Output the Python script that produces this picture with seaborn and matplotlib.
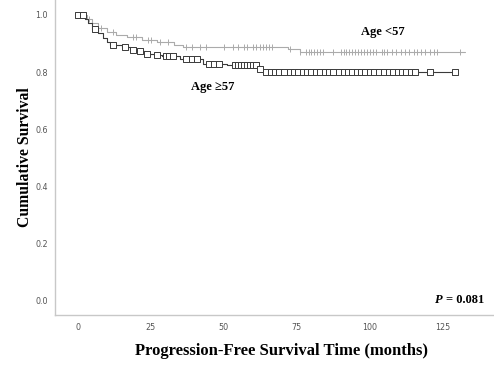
import numpy as np
import pandas as pd
import matplotlib
matplotlib.use("Agg")
import matplotlib.pyplot as plt
import seaborn as sns

# ---- data ----
young_times = [0, 3, 5, 7, 10, 13, 17, 22, 27, 33, 36, 72, 76, 132.5]
young_surv = [1.0, 0.985, 0.97, 0.955, 0.94, 0.93, 0.922, 0.912, 0.905, 0.895, 0.889, 0.881, 0.871, 0.871]
young_censor = [4, 8, 12, 19, 20, 24, 25, 28, 31, 37, 39, 42, 44, 50, 53, 55, 57, 58, 60, 61,
                62.5, 63.5, 64.5, 65.5, 66.5, 72.5, 76, 78, 79, 80, 81, 82, 83, 84, 87.5, 90, 91,
                92, 93, 94, 95, 96, 97, 98, 99, 100, 101, 102, 104, 105, 106, 107.5, 109, 110.5,
                112, 113.5, 115, 116, 117.5, 119, 120.5, 122, 123, 131]

old_times = [0, 2.5, 3.5, 5, 7, 8.5, 10, 11, 15, 18, 20.5, 23, 26, 29, 35, 43, 51, 62, 63.5, 129]
old_surv = [1.0, 0.985, 0.97, 0.951, 0.935, 0.92, 0.905, 0.894, 0.888, 0.878, 0.872, 0.864,
            0.86, 0.858, 0.846, 0.829, 0.824, 0.812, 0.802, 0.802]
old_censor = [0.1, 1.8, 5.9, 12.1, 16.2, 18.9, 21.3, 23.7, 27.2, 30.2, 31.3, 32.5, 37, 39.1, 40.8,
              45, 46.7, 48.5, 53.9, 55, 56, 57, 58, 59, 60, 61, 62.4, 64.5, 66, 67.5, 69, 70.5,
              72.5, 74, 75.5, 77, 78.5, 80, 81.5, 83, 84.5, 86, 87.5, 89.5, 91, 92.5, 94, 95.5,
              97, 98.5, 100, 101.5, 103, 105, 106.5, 108, 109.5, 111, 112.5, 114, 115.5, 120.5, 129]

x_ticks = [0, 25, 50, 75, 100, 125]
y_ticks = [0.0, 0.2, 0.4, 0.6, 0.8, 1.0]


def surv_at(times, surv, t):
    idx = np.searchsorted(np.asarray(times), np.asarray(t), side="right") - 1
    return np.asarray(surv)[idx]


sns.set_theme(style="white")
plt.rcParams['font.family'] = ['DejaVu Sans']

fig = plt.figure(figsize=(4.94, 3.65), dpi=100)
ax = fig.add_axes([55 / 494, 50 / 365, 439 / 494, 315 / 365])

young_df = pd.DataFrame({"t": young_times, "s": young_surv})
old_df = pd.DataFrame({"t": old_times, "s": old_surv})

light = "#ababab"
dark = "#3a3a3a"

sns.lineplot(data=young_df, x="t", y="s", ax=ax, drawstyle="steps-post", color=light,
             linewidth=0.8, estimator=None, sort=True)
sns.lineplot(data=old_df, x="t", y="s", ax=ax, drawstyle="steps-post", color=dark,
             linewidth=0.8, estimator=None, sort=True)

yc = pd.DataFrame({"t": young_censor, "s": surv_at(young_times, young_surv, young_censor)})
oc = pd.DataFrame({"t": old_censor, "s": surv_at(old_times, old_surv, old_censor)})

ax.scatter(yc["t"], yc["s"], marker="|", s=18, color=light, linewidths=0.7, zorder=3)
ax.scatter(oc["t"], oc["s"], marker="s", s=24, facecolors="white", edgecolors=dark,
           linewidths=0.7, zorder=4)

ax.set_xlim(-7.8, 142.5)
ax.set_ylim(-0.049, 1.052)
ax.set_xticks(x_ticks)
ax.set_yticks(y_ticks)
ax.set_xticklabels([str(v) for v in x_ticks])
ax.set_yticklabels([f"{v:.1f}" for v in y_ticks])
ax.tick_params(axis="both", length=0, labelsize=5.8, labelcolor="#555555")
ax.tick_params(axis="x", pad=6)
ax.tick_params(axis="y", pad=5)

for side in ["top", "right"]:
    ax.spines[side].set_visible(False)
for side in ["left", "bottom"]:
    ax.spines[side].set_color("#c8c8c8")
    ax.spines[side].set_linewidth(1.0)

serif = ["Liberation Serif", "DejaVu Serif"]
ax.set_xlabel("Progression-Free Survival Time (months)", family=serif, fontweight="bold",
              fontsize=12, labelpad=10, color="black")
ax.xaxis.set_label_coords(0.517, -0.09)
ax.set_ylabel("Cumulative Survival", family=serif, fontweight="bold", fontsize=11.3,
              labelpad=2, color="black")

ax.text(104.6, 0.94, "Age <57", family=serif, fontweight="bold", fontsize=9,
        ha="center", va="center", color="black")
ax.text(46.3, 0.748, "Age \u226557", family=serif, fontweight="bold", fontsize=9,
        ha="center", va="center", color="black")
pval = ax.text(139, 0.003, "= 0.081", family=serif, fontweight="bold", fontsize=9,
               ha="right", va="center", color="black")
ax.annotate("P ", xy=(0, 0.5), xycoords=pval, family=serif, fontweight="bold",
            fontstyle="italic", fontsize=9, ha="right", va="center", color="black")

fig.savefig("out.png", dpi=100)
